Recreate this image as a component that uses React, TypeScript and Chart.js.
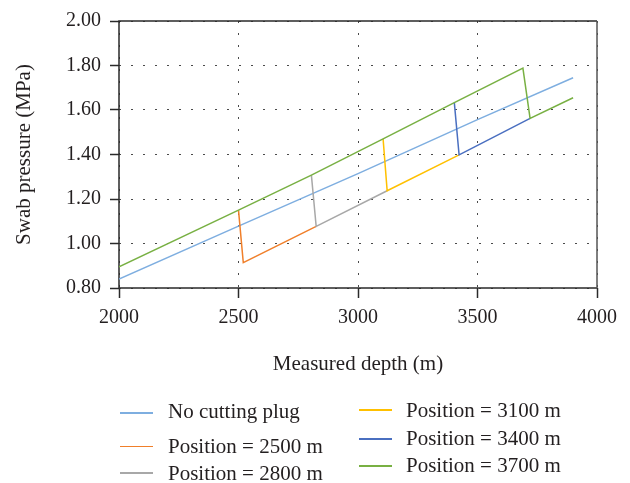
import React, { useEffect, useRef } from "react";
import { Chart, registerables } from "chart.js";

Chart.register(...registerables);

const seriesNames = [
  "No cutting plug",
  "Position = 2500 m",
  "Position = 2800 m",
  "Position = 3100 m",
  "Position = 3400 m",
  "Position = 3700 m",
];
const seriesColors = ["#7EAEE0", "#F07F2A", "#A8A8A8", "#FFC000", "#4A6FC0", "#78B043"];

// No cutting plug (reference line)
const noPlugDepths = [2000, 2500, 3000, 3500, 3900];
const noPlugValues = [0.84, 1.078, 1.314, 1.557, 1.745];

// Cutting plug positions: upper branch (before the plug) and lower branch (after the plug)
const plugPositions = [2500, 2800, 3100, 3400, 3700];
const upperDepths = [2000, 2500, 2805, 3105, 3403, 3690];
const upperValues = [0.895, 1.15, 1.307, 1.47, 1.633, 1.788];
const lowerDepths = [2520, 2825, 3122, 3423, 3720, 3900];
const lowerValues = [0.914, 1.077, 1.237, 1.398, 1.562, 1.655];

const xTicks = [2000, 2500, 3000, 3500, 4000];
const yTicks = [0.8, 1.0, 1.2, 1.4, 1.6, 1.8, 2.0];

const FONT = "'Liberation Serif', 'Times New Roman', serif";
const TEXT = "#231F20";

function buildDatasets() {
  const sets: any[] = [];
  sets.push({
    label: seriesNames[0],
    data: noPlugDepths.map((x, i) => ({ x, y: noPlugValues[i] })),
    borderColor: seriesColors[0],
    order: 5,
  });
  const last = plugPositions.length - 1;
  plugPositions.forEach((_p, i) => {
    const pts: { x: number; y: number }[] = [];
    // visible part: the shared upper branch is shown by the last series (drawn on top)
    const start = i === last ? 0 : i + 1;
    for (let k = start; k <= i + 1; k++) pts.push({ x: upperDepths[k], y: upperValues[k] });
    pts.push({ x: lowerDepths[i], y: lowerValues[i] });
    pts.push({ x: lowerDepths[i + 1], y: lowerValues[i + 1] });
    sets.push({
      label: seriesNames[i + 1],
      data: pts,
      borderColor: seriesColors[i + 1],
      order: 4 - i,
    });
  });
  return sets.map((s) => ({
    ...s,
    borderWidth: 1.5,
    pointRadius: 0,
    tension: 0,
    fill: false,
  }));
}

const framePlugin = {
  id: "frame",
  beforeDatasetsDraw(chart: any) {
    const { ctx, chartArea } = chart;
    ctx.save();
    ctx.lineWidth = 1.5;
    ctx.strokeStyle = "#2a2a2a";
    ctx.beginPath();
    ctx.moveTo(chartArea.right, chartArea.top);
    ctx.lineTo(chartArea.left, chartArea.top);
    ctx.lineTo(chartArea.left, chartArea.bottom);
    ctx.lineTo(chartArea.right, chartArea.bottom);
    ctx.stroke();
    ctx.strokeStyle = "#555";
    ctx.beginPath();
    ctx.moveTo(chartArea.right, chartArea.top);
    ctx.lineTo(chartArea.right, chartArea.bottom);
    ctx.stroke();
    ctx.restore();
  },
};

const legendItems = [
  { idx: 0, lineX: 120, lineY: 413, textX: 168, top: 399 },
  { idx: 1, lineX: 120, lineY: 446.5, textX: 168, top: 433.5 },
  { idx: 2, lineX: 120, lineY: 473, textX: 168, top: 461 },
  { idx: 3, lineX: 359, lineY: 410, textX: 406, top: 397.5 },
  { idx: 4, lineX: 359, lineY: 439, textX: 406, top: 426 },
  { idx: 5, lineX: 359, lineY: 466, textX: 406, top: 452.5 },
];

export default function App() {
  const ref = useRef<HTMLCanvasElement | null>(null);

  useEffect(() => {
    if (!ref.current) return;
    const chart = new Chart(ref.current, {
      type: "line",
      data: { datasets: buildDatasets() },
      plugins: [framePlugin],
      options: {
        animation: false,
        responsive: false,
        maintainAspectRatio: false,
        layout: { padding: { left: 0, top: 16, right: 33, bottom: 105 } },
        plugins: {
          legend: { display: false },
          tooltip: { enabled: false },
        },
        scales: {
          x: {
            type: "linear",
            min: 2000,
            max: 4000,
            afterFit: (s: any) => {
              s.height = 90;
            },
            afterBuildTicks: (s: any) => {
              s.ticks = xTicks.map((v) => ({ value: v }));
            },
            border: { display: false, dash: [2, 10] },
            grid: {
              color: "#4a4a4a",
              lineWidth: 1,
              drawTicks: true,
              tickLength: 10,
              tickColor: "#2a2a2a",
              tickWidth: 1.5,
              tickBorderDash: [],
            },
            ticks: {
              color: TEXT,
              font: { family: FONT, size: 20 },
              padding: 8,
              maxRotation: 0,
              callback: (v: any) => String(v),
            },
            title: {
              display: true,
              text: "Measured depth (m)",
              color: TEXT,
              font: { family: FONT, size: 21 },
              padding: { top: 0, bottom: 1 },
            },
          },
          y: {
            type: "linear",
            min: 0.8,
            max: 2.0,
            afterFit: (s: any) => {
              s.width = 119;
            },
            afterBuildTicks: (s: any) => {
              s.ticks = yTicks.map((v) => ({ value: v }));
            },
            border: { display: false, dash: [2, 10] },
            grid: {
              color: "#4a4a4a",
              lineWidth: 1,
              drawTicks: true,
              tickLength: 9,
              tickColor: "#2a2a2a",
              tickWidth: 1.5,
              tickBorderDash: [],
            },
            ticks: {
              color: TEXT,
              font: { family: FONT, size: 20 },
              padding: 9,
              callback: (v: any) => Number(v).toFixed(2),
            },
            title: {
              display: true,
              text: "Swab pressure (MPa)",
              color: TEXT,
              font: { family: FONT, size: 21 },
              padding: { top: 12, bottom: 0 },
            },
          },
        },
      } as any,
    });
    return () => chart.destroy();
  }, []);

  return (
    <div style={{ position: "fixed", left: 0, top: 0, width: 630, height: 483, background: "#fff" }}>
      <canvas ref={ref} width={630} height={483} style={{ position: "absolute", left: 0, top: 0 }} />
      {legendItems.map((it) => (
        <React.Fragment key={it.idx}>
          <div
            style={{
              position: "absolute",
              left: it.lineX,
              top: it.lineY - 0.75,
              width: 33,
              height: 1.5,
              background: seriesColors[it.idx],
            }}
          />
          <div
            style={{
              position: "absolute",
              left: it.textX,
              top: it.top,
              fontFamily: FONT,
              fontSize: 21,
              lineHeight: "24px",
              color: TEXT,
              whiteSpace: "nowrap",
            }}
          >
            {seriesNames[it.idx]}
          </div>
        </React.Fragment>
      ))}
    </div>
  );
}
